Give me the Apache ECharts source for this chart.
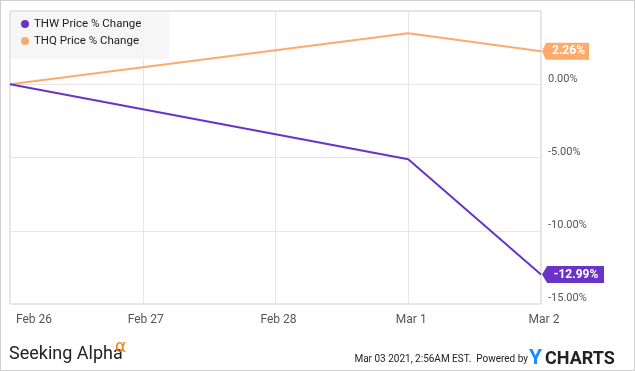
<!DOCTYPE html>
<html><head><meta charset="utf-8">
<script src="https://cdn.jsdelivr.net/npm/echarts@6/dist/echarts.min.js"></script>
<style>
html,body{margin:0;padding:0;background:#fff;}
#wrap{position:relative;width:633px;height:369px;border:1px solid #cfcfcf;}
#c{width:633px;height:369px;}
</style></head><body>
<div id="wrap"><div id="c"></div></div>
<script>
var categories = ['Feb 26', 'Feb 27', 'Feb 28', 'Mar 1', 'Mar 2'];
var thw = [0, null, null, -5.12, -12.99];
var thq = [0, null, null, 3.48, 2.26];
var seriesNames = ['THW Price % Change', 'THQ Price % Change'];
var colors = ['#6a33c8', '#ffa96b'];
var yMin = -15, yMax = 5, yStep = 5;

function tag(name, data, color, w) {
  var last = data[data.length - 1];
  return {
    name: name, type: 'line', data: data, connectNulls: true,
    symbol: 'none', lineStyle: {width: 2, color: color}, itemStyle: {color: color},
    z: name === seriesNames[0] ? 3 : 2,
    markPoint: {
      silent: true, animation: false,
      data: [{coord: [categories.length - 1, last], value: last}],
      symbol: 'path://M0,5 L5,0 L60,0 L60,10 L5,10 Z',
      symbolSize: [w, 17], symbolOffset: [w / 2 + 1, 0], symbolKeepAspect: false,
      itemStyle: {color: color},
      label: {show: true, position: 'inside', offset: [3, 0], color: '#fff', fontWeight: 'bold',
        fontFamily: 'Roboto', fontSize: 12,
        formatter: function (p) { return p.value.toFixed(2) + '%'; }}
    }
  };
}

var chart = echarts.init(document.getElementById('c'));
chart.setOption({
  animation: false,
  textStyle: {fontFamily: 'Roboto'},
  grid: {left: 9, right: 93, top: 10, bottom: 66, show: true, borderColor: '#cccccc', borderWidth: 1},
  legend: {
    orient: 'vertical', left: 10, top: 11, itemGap: 5, icon: 'circle', itemWidth: 8, itemHeight: 8,
    padding: [6, 28, 12, 10], backgroundColor: 'rgba(245,245,245,0.92)',
    textStyle: {fontSize: 11.5, color: '#222', fontFamily: 'Roboto'},
    data: seriesNames
  },
  xAxis: {
    type: 'category', data: categories, boundaryGap: false,
    axisLine: {show: false}, axisTick: {show: false},
    splitLine: {show: true, lineStyle: {color: '#e6e6e6'}},
    axisLabel: {color: '#555', fontSize: 12, margin: 10, alignMinLabel: 'left', padding: [0, 0, 0, 6]}
  },
  yAxis: {
    type: 'value', position: 'right', min: yMin, max: yMax, interval: yStep,
    axisLine: {show: false}, axisTick: {show: false},
    splitLine: {show: true, lineStyle: {color: '#e6e6e6'}},
    axisLabel: {color: '#555', fontSize: 11, margin: 7, showMaxLabel: false, verticalAlign: 'bottom',
      formatter: function (v) { return v.toFixed(2) + '%'; }}
  },
  series: [tag(seriesNames[0], thw, colors[0], 62), tag(seriesNames[1], thq, colors[1], 47)],
  graphic: [
    {type: 'text', left: 8, top: 344, style: {text: 'Seeking Alpha', fontFamily: 'Roboto', fontSize: 18, fill: '#222'}},
    {type: 'text', left: 114, top: 338, style: {text: 'α', fontFamily: 'DejaVu Sans', fontSize: 17, fill: '#ff7a00'}},
    {type: 'text', right: 106, top: 353, style: {text: 'Mar 03 2021, 2:56AM EST.  Powered by', fontFamily: 'Roboto', fontSize: 10, fill: '#222'}},
    {type: 'text', left: 528, top: 347, style: {text: 'Y', fontFamily: 'Roboto', fontWeight: 'bold', fontSize: 21, fill: '#1a8cff'}},
    {type: 'text', left: 544, top: 349, style: {text: 'CHARTS', fontFamily: 'Roboto', fontWeight: 'bold', fontSize: 18, fill: '#222'}}
  ]
});
</script></body></html>
